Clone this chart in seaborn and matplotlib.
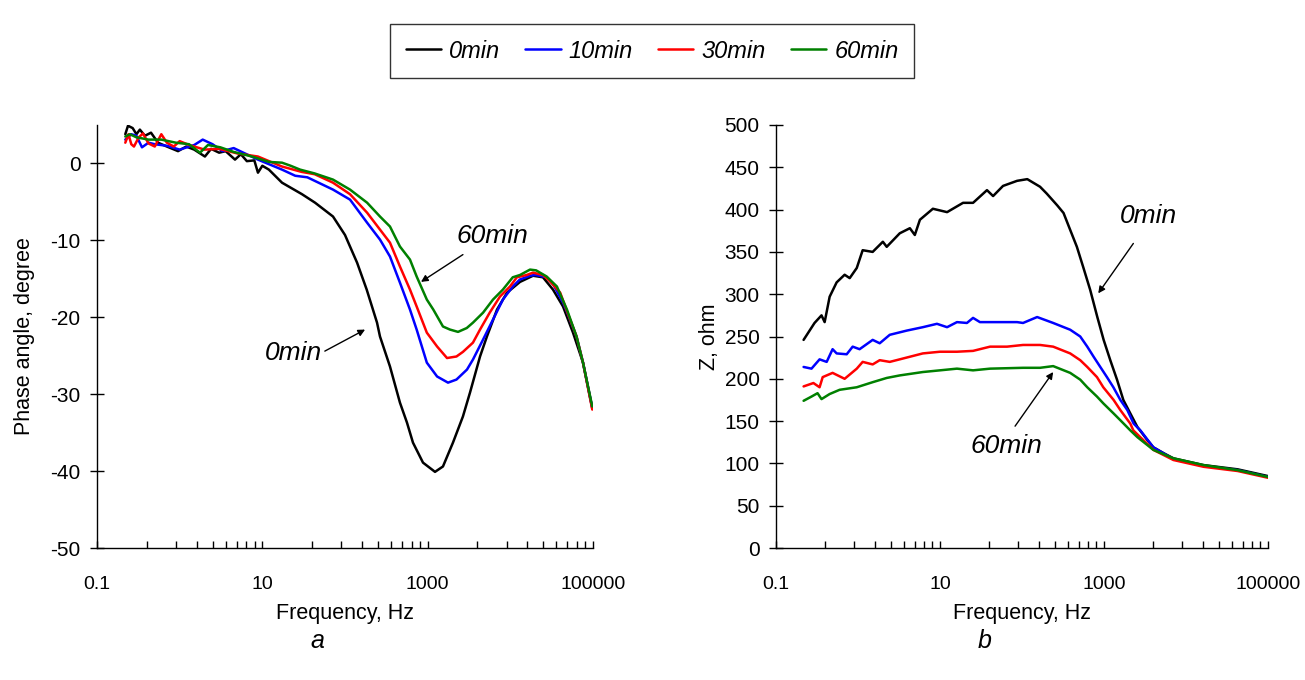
import numpy as np
import pandas as pd
import matplotlib
matplotlib.use("Agg")
import matplotlib.pyplot as plt
from matplotlib.ticker import FixedLocator, NullFormatter
import seaborn as sns

# ---------------- data: phase angle (panel a) ----------------
f_ph_0 = [0.22, 0.237, 0.27, 0.3, 0.33, 0.38, 0.45, 0.547, 0.7, 0.955, 1.2, 1.5, 2.02, 2.4, 3.0, 3.6,
          4.67, 5.5, 6.5, 8.0, 8.85, 10, 12, 17.3, 30.2, 43.4, 71.6, 100, 115, 140, 183, 244, 265, 350,
          462, 562, 664, 878, 1227, 1531, 2023, 2670, 3250, 4300, 5210, 6900, 9120, 13100, 18800,
          24800, 32800, 43400, 57300, 75700, 98000]
ph_0 = [3.8, 4.9, 4.6, 3.8, 4.4, 3.6, 4.0, 2.7, 2.2, 1.6, 2.2, 1.8, 0.9, 1.9, 1.4, 1.6,
        0.5, 1.2, 0.3, 0.4, -1.2, -0.3, -0.8, -2.5, -4.0, -5.1, -6.9, -9.3, -10.8, -12.9, -16.4, -20.7, -22.5, -26.4,
        -31.1, -33.7, -36.3, -38.9, -40.1, -39.4, -36.3, -32.9, -29.8, -25.1, -22.5, -19.0, -16.8, -15.4, -14.6,
        -14.8, -16.4, -18.6, -22.0, -25.9, -31.8]

f_ph_10 = [0.22, 0.26, 0.3, 0.35, 0.42, 0.5, 0.7, 1.0, 1.5, 1.9, 2.5, 3.3, 4.5, 8.85, 17.3, 25, 35,
           71.6, 115, 185, 265, 350, 462, 611, 736, 977, 1300, 1762, 2230, 2990, 3530, 4680, 6170, 8130,
           10700, 13000, 17300, 20000, 27500, 33000, 43400, 48400, 63200, 75700, 98000]
ph_10 = [3.1, 3.8, 3.6, 2.1, 2.7, 2.5, 2.3, 1.8, 2.4, 3.1, 2.5, 1.6, 2.0, 0.5, -0.8, -1.6, -1.8,
         -3.4, -4.7, -7.7, -9.9, -12.1, -15.5, -19.0, -21.6, -25.9, -27.7, -28.5, -28.1, -26.8, -25.5, -22.9, -20.3, -17.7,
         -16.0, -15.1, -14.6, -14.5, -14.8, -15.7, -18.1, -19.3, -22.5, -25.9, -31.8]

f_ph_30 = [0.22, 0.24, 0.26, 0.28, 0.32, 0.36, 0.42, 0.5, 0.6, 0.7, 0.85, 1.0, 1.3, 2.0, 3.0, 5.0,
           8.85, 17.3, 30, 43, 71.6, 115, 185, 265, 350, 462, 611, 736, 977, 1300, 1714, 2230, 2670,
           3530, 4300, 5630, 7500, 9900, 12000, 15800, 18800, 24800, 30000, 40100, 48400, 63200, 75700, 98000]
ph_30 = [2.7, 3.8, 2.5, 2.2, 3.4, 3.9, 2.6, 2.2, 3.8, 2.7, 2.2, 2.9, 2.4, 1.8, 1.9, 1.3,
         0.9, -0.4, -1.1, -1.4, -2.5, -4.0, -6.4, -8.6, -10.3, -13.4, -16.4, -18.6, -22.0, -23.8, -25.3, -25.1, -24.5,
         -23.3, -21.6, -19.4, -17.3, -16.0, -14.8, -14.5, -14.2, -14.5, -15.3, -16.8, -19.2, -22.5, -25.9, -32.0]

f_ph_60 = [0.22, 0.25, 0.3, 0.42, 0.6, 0.9, 1.3, 1.76, 2.2, 3.1, 4.5, 7.5, 12, 17.3, 22, 28.6, 43,
           71.6, 115, 185, 265, 350, 462, 611, 736, 977, 1170, 1531, 1862, 2330, 2970, 3530, 4680, 6170,
           8130, 10700, 13100, 17300, 20500, 27500, 36600, 48400, 63200, 75700, 98000]
ph_60 = [3.5, 3.8, 3.4, 3.1, 3.1, 2.7, 2.5, 1.4, 2.4, 2.1, 1.5, 0.9, 0.2, 0.1, -0.3, -0.8, -1.3,
         -2.1, -3.4, -5.1, -6.9, -8.2, -10.8, -12.5, -14.7, -17.7, -19.0, -21.2, -21.6, -21.9, -21.4, -20.7, -19.4, -17.7,
         -16.4, -14.8, -14.5, -13.8, -13.9, -14.7, -16.0, -19.0, -22.5, -25.9, -31.6]

# ---------------- data: impedance modulus (panel b) ----------------
f_z_0 = [0.217, 0.295, 0.359, 0.392, 0.451, 0.549, 0.687, 0.792, 0.966, 1.14, 1.51, 2.01, 2.24, 3.23, 4.29,
         4.93, 5.69, 8.19, 12.2, 19.1, 25.3, 37.4, 44.4, 58.7, 87.1, 116, 166, 200, 269, 321, 387, 467,
         558, 679, 829, 990, 1193, 1441, 1721, 2095, 2556, 3350, 4000, 5360, 7025, 16370, 42660, 100000]
z_0 = [246, 266, 275, 267, 297, 314, 323, 319, 331, 352, 350, 362, 356, 372, 378,
       370, 388, 401, 397, 408, 408, 423, 416, 428, 434, 436, 427, 419, 405, 396, 376, 356,
       332, 305, 273, 246, 222, 199, 175, 159, 143, 128, 119, 112, 106, 98, 93, 85]

f_z_10 = [0.217, 0.271, 0.340, 0.415, 0.490, 0.549, 0.728, 0.861, 1.046, 1.51, 1.84, 2.44, 3.94, 6.17, 9.18,
          12.2, 16.1, 21.3, 25.3, 30.7, 87.1, 103, 153, 240, 387, 513, 625, 748, 901, 1086, 1301, 1583,
          1926, 2300, 2779, 4000, 7025, 16370, 42660, 100000]
z_10 = [214, 212, 223, 220, 235, 230, 229, 238, 235, 246, 242, 252, 257, 261, 265,
        261, 267, 266, 272, 267, 267, 266, 273, 266, 258, 250, 238, 226, 214, 202, 190, 175,
        163, 147, 139, 119, 105, 97, 92, 84]

f_z_30 = [0.217, 0.286, 0.340, 0.371, 0.490, 0.687, 0.966, 1.14, 1.51, 1.84, 2.44, 3.23, 6.17, 9.99, 16.1,
          25.3, 40.8, 65.7, 103, 166, 240, 387, 513, 625, 821, 980, 1310, 1583, 2095, 2279, 4000,
          7025, 16370, 42660, 100000]
z_30 = [191, 195, 190, 202, 207, 200, 212, 220, 217, 222, 220, 223, 230, 232, 232,
        233, 238, 238, 240, 240, 238, 230, 222, 214, 202, 190, 175, 163, 147, 139, 116,
        104, 96, 91, 83]

f_z_60 = [0.217, 0.271, 0.321, 0.359, 0.451, 0.597, 0.966, 1.51, 2.24, 3.23, 6.17, 9.99, 16.1, 25.3, 40.8,
          103, 166, 240, 387, 513, 625, 821, 980, 1310, 1583, 2095, 2556, 4000, 7025, 16370, 42660, 100000]
z_60 = [174, 179, 183, 176, 182, 187, 190, 196, 201, 204, 208, 210, 212, 210, 212,
        213, 213, 215, 207, 199, 190, 179, 171, 159, 151, 139, 131, 116, 106, 98, 92, 84]

labels = ["0min", "10min", "30min", "60min"]
colors = ["#000000", "#0000ff", "#ff0000", "#008000"]

x_major = [0.1, 10, 1000, 100000]
x_major_labels = ["0.1", "10", "1000", "100000"]

# ---------------- styling ----------------
sns.set_style("ticks")
plt.rcParams["font.family"] = ["Liberation Sans", "DejaVu Sans"]
plt.rcParams["axes.unicode_minus"] = False
plt.rcParams["text.color"] = "black"
plt.rcParams["axes.labelcolor"] = "black"
plt.rcParams["xtick.color"] = "black"
plt.rcParams["ytick.color"] = "black"

fig = plt.figure(figsize=(13.05, 6.8), dpi=100)
ax1 = fig.add_axes([97 / 1305, 1 - 548 / 680, (593 - 97) / 1305, (548 - 125) / 680])
ax2 = fig.add_axes([776 / 1305, 1 - 548 / 680, (1268 - 776) / 1305, (548 - 125) / 680])

ph_sets = [(f_ph_0, ph_0), (f_ph_10, ph_10), (f_ph_30, ph_30), (f_ph_60, ph_60)]
z_sets = [(f_z_0, z_0), (f_z_10, z_10), (f_z_30, z_30), (f_z_60, z_60)]

for (fx, fy), lab, col in zip(ph_sets, labels, colors):
    sns.lineplot(x=fx, y=fy, ax=ax1, color=col, lw=1.8, label=lab, legend=False)
for (fx, fy), lab, col in zip(z_sets, labels, colors):
    sns.lineplot(x=fx, y=fy, ax=ax2, color=col, lw=1.8, legend=False)

for ax in (ax1, ax2):
    for ln in ax.get_lines():
        ln.set_solid_joinstyle("round")

minor = [m * k * k for m in x_major[:-1] for k in range(2, 10)]

for ax in (ax1, ax2):
    ax.set_xscale("log")
    ax.set_xlim(0.1, 100000)
    ax.xaxis.set_major_locator(FixedLocator(x_major))
    ax.set_xticklabels(x_major_labels)
    ax.xaxis.set_minor_locator(FixedLocator(minor))
    ax.xaxis.set_minor_formatter(NullFormatter())
    for s in ("top", "right"):
        ax.spines[s].set_visible(False)
    for s in ("left", "bottom"):
        ax.spines[s].set_color("black")
        ax.spines[s].set_linewidth(1.0)
    ax.tick_params(axis="x", which="both", direction="in", length=5, width=1.0,
                   labelsize=14, pad=20.5, colors="black")
    ax.tick_params(axis="y", which="major", direction="inout", length=9.4, width=1.0,
                   labelsize=15, pad=7, colors="black")
    ax.set_xlabel("Frequency, Hz", fontsize=15.5, labelpad=7)
    ax.set_facecolor("white")

ax1.set_ylim(-50, 5)
ax1.set_yticks([0, -10, -20, -30, -40, -50])
ax1.set_ylabel("Phase angle, degree", fontsize=15.5, labelpad=11)

ax2.set_ylim(0, 500)
ax2.set_yticks(list(range(0, 501, 50)))
ax2.set_ylabel("Z, ohm", fontsize=15.5, labelpad=3)

arrow = dict(arrowstyle="-|>", color="black", lw=1.0, mutation_scale=10, shrinkA=0, shrinkB=0)
ann_fs = 19
ax1.annotate("", xy=(830, -15.4), xytext=(2670, -11.85), arrowprops=arrow)
ax1.text(6000, -9.4, "60min", fontsize=ann_fs, style="italic", ha="center", va="center")
ax1.annotate("", xy=(175, -21.6), xytext=(57, -24.4), arrowprops=arrow)
ax1.text(23.8, -24.6, "0min", fontsize=ann_fs, style="italic", ha="center", va="center")

ax2.annotate("", xy=(851, 301), xytext=(2280, 360), arrowprops=arrow)
ax2.text(3480, 392, "0min", fontsize=ann_fs, style="italic", ha="center", va="center")
ax2.annotate("", xy=(240, 208), xytext=(82.3, 144), arrowprops=arrow)
ax2.text(63.9, 121, "60min", fontsize=ann_fs, style="italic", ha="center", va="center")

fig.text(317 / 1305, 1 - 641 / 680, "a", fontsize=18, style="italic", ha="center", va="center")
fig.text(985 / 1305, 1 - 641 / 680, "b", fontsize=18, style="italic", ha="center", va="center")

handles, labs = ax1.get_legend_handles_labels()
leg = fig.legend(handles, labs, loc="center", bbox_to_anchor=(652 / 1305, 1 - 51 / 680), ncol=4,
                 frameon=True, fancybox=False, edgecolor="black",
                 prop={"style": "italic", "size": 17}, handlelength=1.5, columnspacing=1.05,
                 borderpad=0.65, handletextpad=0.35)
leg.get_frame().set_linewidth(1.0)

fig.savefig("out.png", dpi=100, facecolor="white")
